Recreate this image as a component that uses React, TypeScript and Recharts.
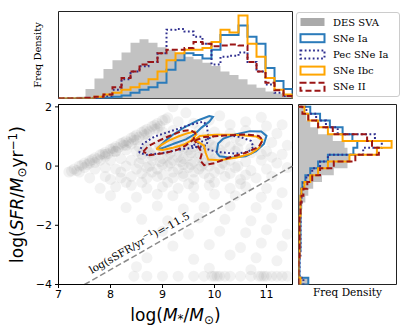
import React from 'react';
import { ComposedChart, Scatter, XAxis, YAxis, ReferenceArea, ReferenceLine, ReferenceDot } from 'recharts';

const W = 407;
const H = 334;

// 26 bins in log stellar mass (7 .. 11.5) and in log SFR (-4 .. 2)
const massEdges = [7.0, 7.173, 7.346, 7.519, 7.692, 7.865, 8.038, 8.212, 8.385, 8.558, 8.731, 8.904, 9.077, 9.25, 9.423, 9.596, 9.769, 9.942, 10.115, 10.288, 10.462, 10.635, 10.808, 10.981, 11.154, 11.327, 11.5];
const sfrEdges = [-4.0, -3.769, -3.538, -3.308, -3.077, -2.846, -2.615, -2.385, -2.154, -1.923, -1.692, -1.462, -1.231, -1.0, -0.769, -0.538, -0.308, -0.077, 0.154, 0.385, 0.615, 0.846, 1.077, 1.308, 1.538, 1.769, 2.0];

// freq density per mass bin (relative units)
const desMass = [0.005, 0.01, 0.02, 0.11, 0.23, 0.34, 0.44, 0.53, 0.64, 0.68, 0.64, 0.59, 0.56, 0.52, 0.48, 0.45, 0.41, 0.375, 0.31, 0.27, 0.22, 0.16, 0.125, 0.08, 0.057, 0.034];
const iaMass = [0, 0, 0, 0, 0, 0.01, 0.02, 0.035, 0.065, 0.1, 0.13, 0.18, 0.33, 0.44, 0.52, 0.5, 0.46, 0.56, 0.73, 0.73, 0.84, 0.71, 0.63, 0.35, 0.2, 0.11];
const pecMass = [0, 0, 0, 0, 0.01, 0.03, 0.1, 0.22, 0.31, 0.37, 0.42, 0.52, 0.79, 0.8, 0.77, 0.71, 0.63, 0.39, 0.48, 0.49, 0.53, 0.42, 0.31, 0.16, 0.065, 0.03];
const ibcMass = [0, 0, 0, 0, 0.02, 0.045, 0.065, 0.1, 0.13, 0.17, 0.22, 0.31, 0.44, 0.52, 0.56, 0.56, 0.58, 0.65, 0.79, 0.76, 0.955, 0.63, 0.48, 0.235, 0.1, 0.045];
const iiMass = [0, 0, 0, 0.01, 0.02, 0.045, 0.13, 0.235, 0.31, 0.39, 0.42, 0.52, 0.56, 0.56, 0.58, 0.65, 0.63, 0.6, 0.61, 0.62, 0.61, 0.42, 0.31, 0.18, 0.095, 0.03];

// freq density per SFR bin, bottom to top
const desSfr = [0.1, 0.01, 0.01, 0.01, 0.01, 0.01, 0.02, 0.02, 0.02, 0.03, 0.03, 0.04, 0.07, 0.1, 0.15, 0.24, 0.36, 0.5, 0.52, 0.5, 0.47, 0.35, 0.2, 0.12, 0.08, 0.05];
const iaSfr = [0.1, 0.01, 0.01, 0.01, 0.01, 0.02, 0.02, 0.02, 0.02, 0.02, 0.02, 0.02, 0.02, 0.03, 0.04, 0.07, 0.12, 0.2, 0.3, 0.56, 0.6, 0.55, 0.45, 0.32, 0.22, 0.12];
const pecSfr = [0.05, 0.01, 0.01, 0.01, 0.02, 0.02, 0.02, 0.02, 0.02, 0.02, 0.02, 0.02, 0.03, 0.03, 0.05, 0.08, 0.14, 0.22, 0.3, 0.66, 0.85, 0.78, 0.4, 0.28, 0.18, 0.08];
const ibcSfr = [0.02, 0, 0, 0, 0.01, 0.01, 0.01, 0.01, 0.01, 0.01, 0.02, 0.02, 0.02, 0.03, 0.06, 0.12, 0.2, 0.3, 0.52, 0.8, 0.95, 0.45, 0.3, 0.2, 0.1, 0.06];
const iiSfr = [0, 0, 0, 0, 0.01, 0.01, 0.01, 0.01, 0.01, 0.01, 0.02, 0.02, 0.03, 0.05, 0.09, 0.14, 0.22, 0.36, 0.58, 0.82, 0.75, 0.7, 0.35, 0.2, 0.1, 0.04];

// contour lobes [logM, logSFR]
const iaContours = [
  [[8.92, 0.62], [9.05, 0.85], [9.2, 1.06], [9.43, 1.32], [9.69, 1.55], [9.9, 1.69], [9.97, 1.66], [9.9, 1.5], [9.75, 1.3], [9.62, 1.08], [9.45, 0.9], [9.24, 0.77], [9.05, 0.64], [8.95, 0.58]],
  [[10.04, 0.45], [10.07, 0.76], [10.17, 0.93], [10.4, 1.07], [10.68, 1.18], [10.9, 1.17], [11.0, 1.02], [10.95, 0.75], [10.8, 0.5], [10.6, 0.33], [10.3, 0.28], [10.1, 0.33]],
];
const pecContours = [
  [[8.55, 0.45], [8.62, 0.75], [8.85, 1.0], [9.2, 1.2], [9.5, 1.38], [9.78, 1.5], [9.85, 1.4], [9.88, 1.0], [9.85, 0.7], [9.6, 0.62], [9.3, 0.55], [9.0, 0.44], [8.7, 0.38]],
  [[9.55, 0.68], [9.8, 0.6], [10.05, 0.48], [10.4, 0.42], [10.65, 0.48], [10.75, 0.65], [10.7, 0.85], [10.5, 0.98], [10.25, 1.05], [10.0, 1.02], [9.85, 0.9], [9.7, 0.78]],
];
const ibcContours = [
  [[8.88, 0.58], [8.98, 0.72], [9.12, 0.86], [9.3, 1.0], [9.5, 1.12], [9.62, 1.16], [9.65, 1.07], [9.55, 0.86], [9.4, 0.72], [9.2, 0.62], [9.0, 0.54]],
  [[9.6, 0.86], [9.72, 1.02], [10.0, 1.06], [10.4, 1.06], [10.8, 1.0], [10.92, 0.88], [10.86, 0.62], [10.7, 0.42], [10.45, 0.3], [10.1, 0.2], [9.88, 0.22], [9.83, 0.45], [9.8, 0.68], [9.7, 0.8]],
];
const iiContours = [
  [[8.63, 0.49], [8.72, 0.66], [8.86, 0.8], [9.11, 1.0], [9.37, 1.18], [9.53, 1.22], [9.63, 1.12], [9.6, 0.9], [9.45, 0.7], [9.3, 0.56], [9.05, 0.44], [8.75, 0.37]],
  [[9.62, 0.86], [9.8, 0.98], [10.2, 1.03], [10.6, 1.07], [10.85, 1.02], [10.93, 0.88], [10.85, 0.65], [10.6, 0.45], [10.3, 0.3], [10.0, 0.1], [9.8, 0.03], [9.72, 0.2], [9.76, 0.45], [9.68, 0.68]],
];

// DES SVA galaxies [logM, logSFR]
const desCloud = [
  [7.2, -0.2], [7.3, -0.1], [7.4, 0.0], [7.5, 0.1], [7.6, 0.18], [7.7, 0.28], [7.8, 0.38], [7.9, 0.47], [8.0, 0.57], [8.1, 0.66],
  [8.2, 0.76], [8.3, 0.85], [8.4, 0.95], [8.5, 1.05], [8.6, 1.14], [8.7, 1.24], [8.8, 1.34], [8.9, 1.44], [9.0, 1.54], [9.1, 1.63],
  [7.35, -0.15], [7.55, 0.05], [7.75, 0.25], [7.95, 0.42], [8.15, 0.62], [8.35, 0.8], [8.55, 0.98], [8.75, 1.17], [8.95, 1.35],
  [8.05, 0.5], [8.45, 0.88], [8.25, 0.7], [8.65, 1.06], [8.85, 1.25],
  [7.25, -0.17], [7.45, 0.03], [7.65, 0.22], [7.85, 0.41], [8.05, 0.6], [8.25, 0.8], [8.45, 0.99], [8.65, 1.19], [8.85, 1.38], [9.05, 1.57],
  [7.5, -0.05], [7.7, 0.12], [7.9, 0.32], [8.1, 0.5], [8.3, 0.7], [8.5, 0.88], [8.7, 1.08], [8.9, 1.27],
  [9.3, 1.5], [9.6, 1.45], [9.9, 1.55], [10.3, 1.4], [10.6, 1.5], [11.0, 1.35], [9.45, 1.8], [10.1, 1.7], [10.9, 1.65], [11.3, 1.4], [9.2, 2.0],
  [9.0, 1.15], [9.2, 1.2], [9.4, 1.1], [9.7, 1.2], [10.0, 1.15], [10.3, 1.1], [10.6, 1.2], [10.9, 1.05], [11.2, 1.1],
  [8.4, 0.75], [8.7, 0.85], [8.9, 0.8], [9.1, 0.9], [9.3, 0.8], [9.5, 0.85], [9.7, 0.75], [9.9, 0.85], [10.2, 0.8], [10.5, 0.85], [10.8, 0.75], [11.1, 0.8], [11.4, 0.7],
  [7.9, 0.4], [8.1, 0.5], [8.3, 0.55], [8.5, 0.5], [8.7, 0.55], [8.9, 0.5], [9.1, 0.55], [9.3, 0.5], [9.5, 0.55], [9.7, 0.45], [9.9, 0.5], [10.1, 0.55], [10.4, 0.5], [10.7, 0.45], [11.0, 0.5], [11.3, 0.4],
  [7.6, 0.1], [7.8, 0.2], [8.0, 0.2], [8.2, 0.25], [8.4, 0.2], [8.6, 0.25], [8.8, 0.2], [9.0, 0.25], [9.2, 0.2], [9.4, 0.25], [9.6, 0.15], [9.8, 0.2], [10.0, 0.25], [10.3, 0.2], [10.6, 0.15], [10.9, 0.2], [11.2, 0.1],
  [7.4, -0.2], [7.7, -0.1], [7.9, -0.05], [8.1, -0.1], [8.3, 0.0], [8.5, -0.1], [8.7, -0.05], [8.9, -0.1], [9.1, 0.0], [9.3, -0.1], [9.5, -0.05], [9.7, -0.1], [9.9, 0.0], [10.1, -0.1], [10.4, -0.05], [10.7, -0.15], [11.0, -0.1], [11.4, -0.05],
  [7.6, -0.4], [7.9, -0.35], [8.2, -0.4], [8.4, -0.35], [8.7, -0.4], [8.9, -0.35], [9.2, -0.4], [9.4, -0.35], [9.6, -0.45], [9.9, -0.4], [10.2, -0.35], [10.5, -0.45], [10.8, -0.4], [11.1, -0.35],
  [7.8, -0.75], [8.1, -0.7], [8.4, -0.65], [8.7, -0.75], [9.0, -0.7], [9.3, -0.75], [9.6, -0.7], [9.9, -0.65], [10.3, -0.75], [10.6, -0.7], [11.0, -0.75],
  [8.0, -1.0], [8.5, -1.05], [8.9, -0.95], [9.2, -1.0], [9.6, -1.05], [10.0, -0.95], [10.4, -1.0], [10.9, -1.05], [11.3, -0.9],
  [8.3, -1.4], [8.9, -1.35], [9.4, -1.45], [9.8, -1.4], [10.3, -1.35], [10.8, -1.4], [11.2, -1.3],
  [8.6, -1.8], [9.1, -1.85], [9.7, -1.75], [10.2, -1.8], [10.7, -1.85], [11.1, -1.75],
  [9.0, -2.2], [9.5, -2.3], [10.1, -2.2], [10.6, -2.25], [11.0, -2.15], [11.4, -2.3],
  [9.2, -2.7], [9.9, -2.65], [10.5, -2.75], [10.9, -2.6], [11.3, -2.7],
  [8.7, -3.1], [9.6, -3.15], [10.3, -3.0], [10.8, -3.1], [11.2, -3.2],
  [8.5, -3.4], [9.9, -3.45], [10.7, -3.5],
  [8.45, -3.72], [8.7, -3.72], [9.0, -3.72], [9.3, -3.72], [9.6, -3.72], [9.8, -3.72], [9.95, -3.72], [10.0, -3.72], [10.05, -3.72], [10.1, -3.72], [10.2, -3.72],
  [10.3, -3.72], [10.5, -3.72], [10.7, -3.72], [10.85, -3.72], [10.9, -3.72], [10.95, -3.72], [11.0, -3.72], [11.1, -3.72], [11.2, -3.72], [11.3, -3.72], [11.4, -3.72],
  [9.0, 0.6], [9.2, 0.7], [9.4, 0.6], [9.6, 0.65], [9.8, 0.6], [10.0, 0.65], [9.1, 0.35], [9.3, 0.3], [9.5, 0.35], [9.7, 0.3], [9.9, 0.35], [10.1, 0.3],
  [8.8, 0.35], [8.6, 0.4], [9.0, 0.05], [9.4, 0.05], [9.8, 0.1], [10.2, 0.05], [8.7, 0.65], [10.3, 0.65],
  [8.55, 0.1], [8.75, 0.0], [8.95, 0.15], [9.15, 0.1], [9.35, 0.15], [9.55, 0.05], [9.75, 0.0], [9.95, 0.15], [10.15, 0.1], [10.45, 0.0],
  [8.55, 0.65], [8.75, 0.45], [8.95, 0.7], [9.15, 0.45], [9.35, 0.65], [9.55, 0.45], [9.75, 0.6], [9.95, 0.7], [10.15, 0.45], [10.45, 0.6],
  [8.6, -0.25], [8.8, -0.2], [9.0, -0.3], [9.2, -0.2], [9.4, -0.25], [9.6, -0.2], [9.8, -0.25], [10.0, -0.2], [10.3, -0.25], [10.6, -0.3],
  [9.05, 1.0], [9.25, 0.95], [9.45, 1.0], [9.65, 0.95], [9.85, 1.0], [10.1, 0.95], [10.4, 0.95], [10.7, 0.6], [10.9, 0.4], [11.1, 0.3],
  [8.2, -0.2], [8.0, -0.45], [8.3, -0.55], [8.6, -0.55], [9.1, -0.55], [9.5, -0.6], [10.0, -0.55], [10.5, -0.6],
];

const sSfrCut = -11.5;
const xTicks = [7, 8, 9, 10, 11];
const yTicks = [-4, -2, 0, 2];
const mRange = [7, 11.5];
const sfrRange = [-4, 2.08];

const SN = [
  { name: 'SNe Ia', color: '#2b7bba', dash: undefined, mass: iaMass, sfr: iaSfr, contours: iaContours },
  { name: 'Pec SNe Ia', color: '#2f2f8f', dash: '1.8 2.4', mass: pecMass, sfr: pecSfr, contours: pecContours },
  { name: 'SNe Ibc', color: '#ffa500', dash: undefined, mass: ibcMass, sfr: ibcSfr, contours: ibcContours },
  { name: 'SNe II', color: '#9b1515', dash: '6 3', mass: iiMass, sfr: iiSfr, contours: iiContours },
];

type Pt = { x: number; y: number };
const closed = (pairs: number[][]): Pt[] => [...pairs, pairs[0]].map(([x, y]) => ({ x, y }));

function stepAlongX(edges: number[], vals: number[]): Pt[] {
  const out: Pt[] = [{ x: edges[0], y: 0 }];
  vals.forEach((v, i) => {
    out.push({ x: edges[i], y: v });
    out.push({ x: edges[i + 1], y: v });
  });
  out.push({ x: edges[edges.length - 1], y: 0 });
  return out;
}

function stepAlongY(edges: number[], vals: number[]): Pt[] {
  const out: Pt[] = [{ x: 0, y: edges[0] }];
  vals.forEach((v, i) => {
    out.push({ x: v, y: edges[i] });
    out.push({ x: v, y: edges[i + 1] });
  });
  out.push({ x: 0, y: edges[edges.length - 1] });
  return out;
}

const noDot = () => <g />;
const cloudDot = (p: any) => <circle cx={p.cx} cy={p.cy} r={5.5} fill="#7f7f7f" fillOpacity={0.1} />;
const fmt = (v: number) => (v < 0 ? `\u2212${-v}` : `${v}`);
const tickFont = { fontSize: 11, fill: '#000', fontFamily: 'DejaVu Sans' };
const serif = 'DejaVu Serif';

const cutLabel = (p: any) => (
  <text x={p.cx} y={p.cy} transform={`rotate(-29.6 ${p.cx} ${p.cy})`} textAnchor="middle" dy={4}
    fontFamily={serif} fontSize={10.5} fill="#000">
    log(sSFR/yr<tspan fontSize={7.5} dy={-4.5}>{'\u22121'}</tspan><tspan dy={4.5}>)=-11.5</tspan>
  </text>
);

function LegendBox() {
  const rows = [{ name: 'DES SVA', color: '#aaaaaa', dash: undefined as string | undefined, fill: true }, ...SN.map((s) => ({ ...s, fill: false }))];
  return (
    <g transform="translate(296.5,12.5)">
      <rect x={0} y={0} width={103} height={84} rx={2.5} fill="#fff" stroke="#cccccc" />
      {rows.map((r, i) => {
        const cy = 9.5 + i * 16.2;
        return (
          <g key={r.name}>
            {r.fill ? (
              <rect x={4} y={cy - 4} width={24} height={8} fill={r.color} />
            ) : (
              <rect x={4} y={cy - 4} width={24} height={8} fill="none" stroke={r.color} strokeWidth={2} strokeDasharray={r.dash} />
            )}
            <text x={36.5} y={cy} dominantBaseline="central" fontFamily={serif} fontSize={10} fill="#000">{r.name}</text>
          </g>
        );
      })}
    </g>
  );
}

const layer: React.CSSProperties = { position: 'absolute', left: 0, top: 0 };

export default function App() {
  return (
    <div style={{ position: 'absolute', left: 0, top: 0, width: W, height: H, background: '#fff' }}>
      {/* mass histogram on top */}
      <div style={layer}>
        <ComposedChart width={W} height={H} margin={{ top: 11.5, right: 114.5, bottom: 235.5, left: 58.5 }}>
          <XAxis type="number" dataKey="x" domain={mRange} hide allowDataOverflow />
          <YAxis type="number" dataKey="y" domain={[0, 1]} hide allowDataOverflow />
          <Scatter data={stepAlongX(massEdges, desMass)} shape={noDot} line={{ fill: '#c2c2c2', stroke: 'none' }} lineType="joint" isAnimationActive={false} />
          {SN.map((s) => (
            <Scatter key={s.name} data={stepAlongX(massEdges, s.mass)} shape={noDot}
              line={{ stroke: s.color, strokeWidth: 2, strokeDasharray: s.dash, fill: 'none' }} lineType="joint" isAnimationActive={false} />
          ))}
          <ReferenceArea x1={7} x2={11.5} y1={0} y2={1} fill="none" stroke="#222" />
        </ComposedChart>
      </div>

      {/* SFR histogram on the right */}
      <div style={layer}>
        <ComposedChart width={W} height={H} margin={{ top: 104.5, right: 10.5, bottom: 49.5, left: 298.5 }}>
          <XAxis type="number" dataKey="x" domain={[0, 1]} hide allowDataOverflow />
          <YAxis type="number" dataKey="y" domain={sfrRange} hide allowDataOverflow />
          <Scatter data={stepAlongY(sfrEdges, desSfr)} shape={noDot} line={{ fill: '#c2c2c2', stroke: 'none' }} lineType="joint" isAnimationActive={false} />
          {SN.map((s) => (
            <Scatter key={s.name} data={stepAlongY(sfrEdges, s.sfr)} shape={noDot}
              line={{ stroke: s.color, strokeWidth: 2, strokeDasharray: s.dash, fill: 'none' }} lineType="joint" isAnimationActive={false} />
          ))}
          <ReferenceArea x1={0} x2={1} y1={-4} y2={2.08} fill="none" stroke="#222" />
        </ComposedChart>
      </div>

      {/* main mass - SFR panel */}
      <div style={layer}>
        <ComposedChart width={W} height={H} margin={{ top: 104.5, right: 114.5, bottom: 19.5, left: 28.5 }}>
          <XAxis type="number" dataKey="x" domain={mRange} ticks={xTicks} height={30} allowDataOverflow
            tick={tickFont} tickLine={{ stroke: '#000' }} axisLine={{ stroke: '#000' }} tickSize={3.5} tickMargin={2} tickFormatter={fmt} />
          <YAxis type="number" dataKey="y" domain={sfrRange} ticks={yTicks} width={30} allowDataOverflow
            tick={tickFont} tickLine={{ stroke: '#000' }} axisLine={{ stroke: '#000' }} tickSize={3.5} tickMargin={3} tickFormatter={fmt} />
          <Scatter data={desCloud.map(([x, y]) => ({ x, y }))} shape={cloudDot} isAnimationActive={false} />
          <ReferenceLine segment={[{ x: 7.5, y: 7.5 + sSfrCut }, { x: 11.5, y: 11.5 + sSfrCut }]}
            stroke="#8a8a8a" strokeWidth={1.5} strokeDasharray="6 3" />
          {SN.flatMap((s) =>
            s.contours.map((c, i) => (
              <Scatter key={`${s.name}-${i}`} data={closed(c)} shape={noDot}
                line={{ stroke: s.color, strokeWidth: 2, strokeDasharray: s.dash, fill: 'none' }} lineType="joint" isAnimationActive={false} />
            ))
          )}
          <ReferenceDot x={8.55} y={-2.58} r={0} shape={cutLabel} ifOverflow="visible" />
          <ReferenceArea x1={7} x2={11.5} y1={-4} y2={2.08} fill="none" stroke="#000" />
        </ComposedChart>
      </div>

      <svg width={W} height={H} style={{ ...layer, pointerEvents: 'none' }}>
        <text transform="translate(41,55) rotate(-90)" textAnchor="middle" fontFamily={serif} fontSize={10} fill="#000">Freq Density</text>
        <text x={347.5} y={296} textAnchor="middle" fontFamily={serif} fontSize={10.5} fill="#000">Freq Density</text>
        <text x={175.5} y={321} textAnchor="middle" fontFamily="DejaVu Sans" fontSize={17} fill="#000">
          log(<tspan fontStyle="italic">M</tspan><tspan fontSize={12} dy={2}>*</tspan><tspan dy={-2}>/</tspan>
          <tspan fontStyle="italic">M</tspan><tspan fontSize={12} dy={3}>{'\u2299'}</tspan><tspan dy={-3}>)</tspan>
        </text>
        <text transform="translate(23,194.5) rotate(-90)" textAnchor="middle" fontFamily="DejaVu Sans" fontSize={17} fill="#000">
          log(<tspan fontStyle="italic">SFR</tspan>/<tspan fontStyle="italic">M</tspan><tspan fontSize={12} dy={3}>{'\u2299'}</tspan>
          <tspan dy={-3}>yr</tspan><tspan fontSize={12} dy={-6}>{'\u22121'}</tspan><tspan dy={6}>)</tspan>
        </text>
        <LegendBox />
      </svg>
    </div>
  );
}
